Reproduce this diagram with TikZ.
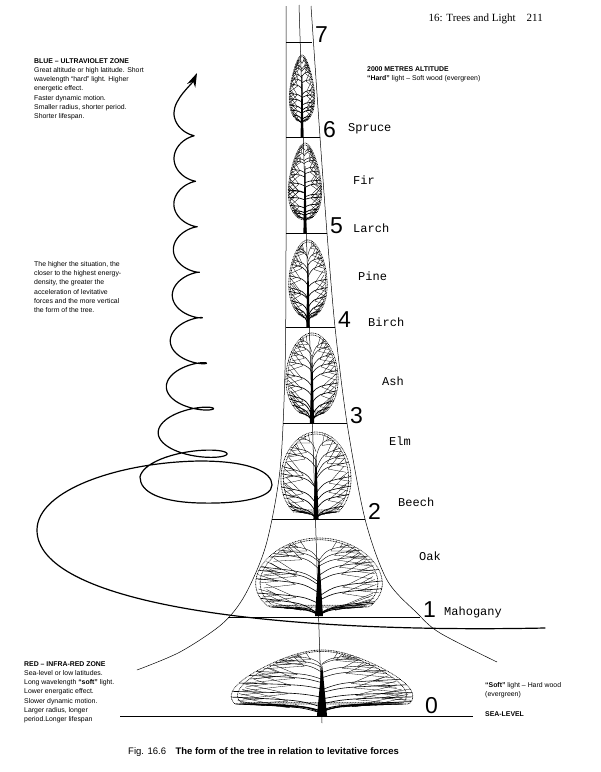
\documentclass[tikz,border=0pt]{standalone}
\usepackage{fontspec}
\setmainfont{Liberation Sans}
\newfontfamily\monofont{Liberation Mono}
\newfontfamily\headfont{Liberation Serif}
\usetikzlibrary{arrows.meta}

\tikzset{
  leaf/.style={line width=0.8pt,dash pattern=on 0.3pt off 1.3pt,line cap=round},
  twig/.style={line width=0.3pt},
  tower/.style={line width=0.5pt},
  coil/.style={line width=1.2pt,line cap=round,line join=round},
  levelnum/.style={font=\fontsize{23}{23}\selectfont,anchor=base west,inner sep=0pt},
  treename/.style={font=\monofont\fontsize{12}{12}\selectfont,anchor=base west,inner sep=0pt},
  zonetext/.style={font=\fontsize{6.9}{9.3}\selectfont,align=left,anchor=north west,inner sep=0pt},
}

% tree: x, crown top, crown bottom, half width, pointedness, trunk base, branches, rise, flat bottom
\newcommand{\tree}[9]{%
  \pgfmathsetmacro{\hh}{(#3-#2)/2}
  \draw[leaf] plot[domain=0:360,samples=90,variable=\ang]
    ({#1+#4*sin(\ang)*(1-#5*cos(\ang))},{#2+min(2*\hh,\hh*(1-cos(\ang))*(1+#9))});
  \draw[leaf] plot[domain=0:360,samples=80,variable=\ang]
    ({#1+0.93*#4*sin(\ang)*(1-#5*cos(\ang))},{#2+0.05*\hh+min(1.9*\hh,0.95*\hh*(1-cos(\ang))*(1+#9))});
  \fill (#1-#4/20-0.8,#6) -- (#1-0.35,{#2+0.6*\hh}) -- (#1+0.35,{#2+0.6*\hh}) -- (#1+#4/20+0.8,#6) -- cycle;
  \foreach \kk in {1,...,#7}{
    \foreach \sd in {-1,1}{
      \pgfmathsetmacro{\tk}{168-150*\kk/(#7+1)+10*(rnd-0.5)}
      \pgfmathsetmacro{\ey}{#2+min(2*\hh,\hh*(1-cos(\tk))*(1+#9))}
      \pgfmathsetmacro{\ex}{#1+\sd*#4*sin(\tk)*(1-#5*cos(\tk))}
      \pgfmathsetmacro{\sy}{min(#6-1,\ey+#8*(0.7+0.6*rnd))}
      \pgfmathsetmacro{\qx}{#1+0.25*(\ex-#1)}
      \pgfmathsetmacro{\qy}{\ey+0.3*(\sy-\ey)}
      \pgfmathsetmacro{\mx}{0.25*#1+0.5*\qx+0.25*\ex}
      \pgfmathsetmacro{\my}{0.25*\sy+0.5*\qy+0.25*\ey}
      \pgfmathsetmacro{\nx}{0.0625*#1+0.375*\qx+0.5625*\ex}
      \pgfmathsetmacro{\ny}{0.0625*\sy+0.375*\qy+0.5625*\ey}
      \pgfmathsetmacro{\lw}{0.3+0.6*(1-\kk/(#7+1))}
      \draw[line width=\lw pt] (#1,\sy) .. controls (\qx,\qy) .. (\ex,\ey);
      \foreach \dd in {-13,13}{
        \draw[twig] (\mx,\my) -- ({#1+\sd*(0.82+0.15*rnd)*#4*sin(\tk+\dd)*(1-#5*cos(\tk+\dd))},{#2+min(2*\hh,\hh*(1-cos(\tk+\dd))*(1+#9))});
      }
      \foreach \dd in {-6,6}{
        \draw[twig] (\nx,\ny) -- ({#1+\sd*(0.85+0.15*rnd)*#4*sin(\tk+\dd)*(1-#5*cos(\tk+\dd))},{#2+min(2*\hh,\hh*(1-cos(\tk+\dd))*(1+#9))});
      }
    }
  }
}

\begin{document}
\begin{tikzpicture}[x=1pt,y=-1pt]
  \useasboundingbox[fill=white] (0,0) rectangle (601,772);
  \pgfmathsetseed{11}

  % tower
  \coordinate (top) at (299,5) ;
  \coordinate (foot) at (322,723) ;
  \draw[tower] (top) -- (foot) ;
  \draw[tower] plot[smooth] coordinates {(286,6) (286,250) (285,370) (280,470) (266,545) (245,595) (222,624) (180,652) (137,670)} ;
  \draw[tower] plot[smooth] coordinates {(311,6) (320,137) (327,233) (335,327) (347,423) (365,519) (387,580) (417,613) (440,633) (497,662)} ;
  \foreach \n/\y/\l/\r in {7/42/286/312,6/137/286/320,5/233/286/327,4/327/286/335,3/423/283/347,2/519/272/365,1/617/228/420}{
    \coordinate (L\n) at (\l,\y) ;
    \coordinate (R\n) at (\r,\y) ;
    \draw[tower] (L\n) -- (R\n) ;
    \node[levelnum] (N\n) at ([xshift=3pt]R\n) {\n} ;
  }
  \coordinate (L0) at (120,716) ;
  \coordinate (R0) at (473,716) ;
  \draw[tower] (L0) -- (R0) ;
  \node[levelnum] (N0) at (425,713) {0} ;

  % trees
  \tree{302}{55}{122}{12}{0.35}{137}{12}{4}{0}
  \tree{305}{143}{220}{16}{0.3}{233}{14}{3}{0}
  \tree{308}{240}{318}{19}{0.15}{327}{10}{10}{0}
  \tree{312}{333}{413}{26}{0.1}{423}{10}{14}{0.05}
  \tree{316}{432}{512}{35}{0.05}{519}{10}{18}{0.12}
  \tree{319}{538}{607}{63}{0.1}{616}{11}{14}{0.2}
  \tree{322}{650}{704}{85}{0.4}{716}{12}{8}{0.3}

  % names
  \node[treename] (spruce) at (348,131) {Spruce} ;
  \node[treename] (fir) at (353,184) {Fir} ;
  \node[treename] (larch) at (353,232) {Larch} ;
  \node[treename] (pine) at (358,280) {Pine} ;
  \node[treename] (birch) at (368,326) {Birch} ;
  \node[treename] (ash) at (382,385) {Ash} ;
  \node[treename] (elm) at (389,445) {Elm} ;
  \node[treename] (beech) at (398,506) {Beech} ;
  \node[treename] (oak) at (419,560) {Oak} ;
  \node[treename] (mahogany) at (444,615) {Mahogany} ;

  % spiral
  \coordinate (coilend) at (545,628) ;
  \coordinate (tip) at (197,73) ;
  \draw[coil,-{Stealth[length=14pt,width=9pt]}] (coilend)
    .. controls (250,634) and (37,600) .. (37,530)
    .. controls (37,490) and (120,462) .. (200,461)
    .. controls (250,461) and (272,472) .. (272,485)
    .. controls (272,498) and (240,504) .. (200,503)
    .. controls (160,502) and (140,492) .. (140,477)
    -- plot[domain=1:9,samples=400,variable=\u]
      ({190-0.7*\u-(8+26*exp(-0.3*\u)+60*exp(-\u))*cos(360*\u)},
       {522.5-45.5*\u-(0.22*(8+26*exp(-0.3*\u)+60*exp(-\u))+4.5)*sin(360*\u)})
    .. controls +(0,-14) and +(-5,11) .. (tip) ;

  % texts
  \node[font=\headfont\fontsize{11}{11}\selectfont,anchor=base east,inner sep=0pt] (head) at (543,21) {16: Trees and Light\quad 211} ;
  \node[zonetext] (alt) at (367,66) {\textbf{2000 METRES ALTITUDE}\\\textbf{“Hard”} light – Soft wood (evergreen)} ;
  \node[zonetext] (blue) at (34,58) {\textbf{BLUE – ULTRAVIOLET ZONE}\\Great altitude or high latitude. Short\\wavelength “hard” light. Higher\\energetic effect.\\Faster dynamic motion.\\Smaller radius, shorter period.\\Shorter lifespan.} ;
  \node[zonetext] (rise) at (34,261) {The higher the situation, the\\closer to the highest energy-\\density, the greater the\\acceleration of levitative\\forces and the more vertical\\the form of the tree.} ;
  \node[zonetext] (red) at (24,661) {\textbf{RED – INFRA-RED ZONE}\\Sea-level or low latitudes.\\Long wavelength \textbf{“soft”} light.\\Lower energatic effect.\\Slower dynamic motion.\\Larger radius, longer\\period.Longer lifespan} ;
  \node[zonetext] (soft) at (485,682) {\textbf{“Soft”} light – Hard wood\\(evergreen)} ;
  \node[zonetext,anchor=west] (sea) at (485,714) {\textbf{SEA-LEVEL}} ;
  \node[font=\fontsize{9.5}{10}\selectfont,anchor=base west,inner sep=0pt] (cap) at (128,754) {Fig. 16.6\quad\textbf{The form of the tree in relation to levitative forces}} ;
\end{tikzpicture}
\end{document}
